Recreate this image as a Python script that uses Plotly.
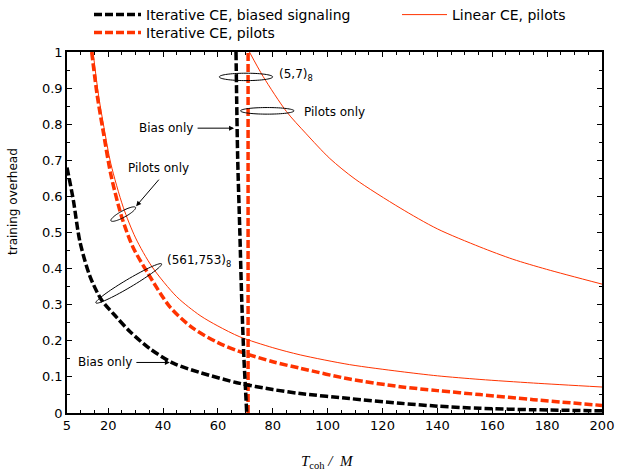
import math
import plotly.graph_objects as go

# ---------------- data ----------------
# Iterative CE, biased signaling: decreasing curve + near-vertical branch
black_curve_x = [5, 7.3, 9.7, 13.4, 17.6, 23.1, 28, 35.2, 43.7, 53.5, 68, 80, 90, 108, 126.4, 140, 155.5, 175, 200]
black_curve_y = [0.68, 0.59, 0.475, 0.378, 0.313, 0.265, 0.225, 0.178, 0.138, 0.112, 0.082, 0.065, 0.054, 0.04, 0.027, 0.019, 0.013, 0.009, 0.006]
black_vert_x = [66.6, 67.2, 68.0, 68.7, 69.5, 70.1, 70.5]
black_vert_y = [1.0, 0.71, 0.5, 0.31, 0.15, 0.06, 0.0]

# Iterative CE, pilots
red_curve_x = [14, 16, 18.1, 21, 24.9, 29, 34.5, 42.5, 50.9, 60, 68, 80, 90, 108, 126.4, 140, 155.5, 175, 200]
red_curve_y = [1.0, 0.88, 0.784, 0.66, 0.544, 0.46, 0.387, 0.294, 0.235, 0.195, 0.17, 0.142, 0.124, 0.094, 0.073, 0.062, 0.051, 0.037, 0.021]
red_vert_x = [71, 71]
red_vert_y = [0.0, 1.0]

# Linear CE, pilots
lin_low_x = [14.5, 16.5, 18.5, 21, 25.5, 30, 36, 45, 53.5, 60, 68, 80, 90, 108, 126.4, 140, 155.5, 175, 200]
lin_low_y = [1.0, 0.88, 0.79, 0.69, 0.57, 0.485, 0.405, 0.322, 0.27, 0.241, 0.211, 0.181, 0.161, 0.134, 0.115, 0.103, 0.093, 0.083, 0.072]
lin_up_x = [71.5, 76.5, 85, 92, 100.8, 110, 126.4, 140, 155.5, 167.5, 179.8, 200]
lin_up_y = [1.0, 0.932, 0.835, 0.775, 0.705, 0.648, 0.568, 0.51, 0.46, 0.426, 0.398, 0.357]

x_ticks = [5, 20, 40, 60, 80, 100, 120, 140, 160, 180, 200]
y_ticks = [0, 0.1, 0.2, 0.3, 0.4, 0.5, 0.6, 0.7, 0.8, 0.9, 1]
y_ticktext = ["0", "0.1", "0.2", "0.3", "0.4", "0.5", "0.6", "0.7", "0.8", "0.9", "1"]

# ---------------- layout geometry ----------------
W, H = 620, 470
ML, MR, MT, MB = 67, 18, 52, 57
XR = (5, 200)
YR = (0, 1)
PW = W - ML - MR
PH = H - MT - MB
PXX = PW / (XR[1] - XR[0])
PXY = PH / (YR[1] - YR[0])

RED = "#ff3300"
FONT = "DejaVu Sans"


def join(*segs):
    xs, ys = [], []
    for i, (sx, sy) in enumerate(segs):
        if i:
            xs.append(None)
            ys.append(None)
        xs += list(sx)
        ys += list(sy)
    return xs, ys


def ellipse_path(cx, cy, a_px, b_px, ang_deg, n=72):
    t = math.radians(ang_deg)
    pts = []
    for k in range(n):
        u = 2 * math.pi * k / n
        dx = a_px * math.cos(u)
        dy = b_px * math.sin(u)
        rx = dx * math.cos(t) - dy * math.sin(t)
        ry = dx * math.sin(t) + dy * math.cos(t)
        pts.append((cx + rx / PXX, cy + ry / PXY))
    return "M " + " L ".join(f"{x:.4f},{y:.5f}" for x, y in pts) + " Z"


fig = go.Figure()

bx, by = join((black_curve_x, black_curve_y), (black_vert_x, black_vert_y))
rx, ry = join((red_curve_x, red_curve_y), (red_vert_x, red_vert_y))
lx, ly = join((lin_low_x, lin_low_y), (lin_up_x, lin_up_y))

fig.add_trace(go.Scatter(x=lx, y=ly, mode="lines", name="Linear CE, pilots",
                         line=dict(color=RED, width=1, shape="spline", smoothing=0.8), legend="legend2"))
fig.add_trace(go.Scatter(x=rx, y=ry, mode="lines", name="Iterative CE, pilots",
                         line=dict(color=RED, width=3.5, dash="8px,3px", shape="spline", smoothing=0.8),
                         legend="legend3"))
fig.add_trace(go.Scatter(x=bx, y=by, mode="lines", name="Iterative CE, biased signaling",
                         line=dict(color="black", width=3.5, dash="8px,3px", shape="spline", smoothing=0.8),
                         legend="legend"))

# ellipses (centre in data units, axes in pixels)
ellipses = [
    (70.24, 0.931, 26.7, 3.7, 0),
    (78.0, 0.837, 26.7, 3.3, 0),
    (25.5, 0.551, 14.0, 3.2, 28.6),
    (27.5, 0.359, 38.2, 4.0, 30.7),
]
for cx, cy, a, b, ang in ellipses:
    fig.add_shape(type="path", path=ellipse_path(cx, cy, a, b, ang), xref="x", yref="y",
                  line=dict(color="black", width=1), fillcolor="rgba(0,0,0,0)")

afont = dict(family=FONT, size=12, color="black")
texts = [
    ("(5,7)<sub>8</sub>", 81.4, 0.936, "left"),
    ("Pilots only", 90.5, 0.835, "left"),
    ("Bias only", 51.8, 0.789, "right"),
    ("Pilots only", 26.5, 0.679, "left"),
    ("(561,753)<sub>8</sub>", 40.6, 0.422, "left"),
    ("Bias only", 8.4, 0.142, "left"),
]
for t, x, y, anc in texts:
    fig.add_annotation(text=t, x=x, y=y, xref="x", yref="y", xanchor=anc, yanchor="middle",
                       showarrow=False, font=afont)

arrows = [
    (65.9, 0.789, -38, 0),
    (30.2, 0.573, 24, -28),
    (42.5, 0.14, -35, 0),
]
for x, y, ax, ay in arrows:
    fig.add_annotation(text="", x=x, y=y, xref="x", yref="y", ax=ax, ay=ay,
                       showarrow=True, arrowhead=2, arrowsize=1, arrowwidth=1,
                       arrowcolor="black", standoff=0)

# axis titles (positions given in figure pixels, converted to plot-paper units)
fig.add_annotation(text="training overhead", x=(13 - ML) / PW, y=(H - MB - 202) / PH,
                   xref="paper", yref="paper", xanchor="center", yanchor="middle",
                   showarrow=False, textangle=-90,
                   font=dict(family=FONT, size=12, color="black"))
fig.add_annotation(text="<i>T</i><sub>coh</sub> <i>/</i>  <i>M</i>", x=(327 - ML) / PW,
                   y=-(462 - (H - MB)) / PH, xref="paper", yref="paper",
                   xanchor="center", yanchor="middle", showarrow=False,
                   font=dict(family="Liberation Serif", size=15, color="black"))

axis_common = dict(showgrid=False, zeroline=False, showline=True, linecolor="black", linewidth=1.5,
                   mirror="allticks", ticks="inside", ticklen=5, tickwidth=1, tickcolor="black",
                   tickfont=dict(family=FONT, size=13, color="black"), automargin=False)

fig.update_xaxes(range=list(XR), tickvals=x_ticks,
                 minor=dict(dtick=5, tick0=0, ticks="inside", ticklen=3, tickcolor="black"),
                 **axis_common)
fig.update_yaxes(range=list(YR), tickvals=y_ticks, ticktext=y_ticktext,
                 minor=dict(dtick=0.05, tick0=0, ticks="inside", ticklen=3, tickcolor="black"),
                 **axis_common)

leg_font = dict(family=FONT, size=14, color="black")


def leg(xpx, ypx, iw):
    return dict(xref="container", yref="container", x=xpx / W, y=1 - ypx / H,
                xanchor="left", yanchor="middle", orientation="v", font=leg_font,
                itemwidth=iw, bgcolor="rgba(0,0,0,0)", borderwidth=0)


fig.update_layout(
    width=W, height=H,
    margin=dict(l=ML, r=MR, t=MT, b=MB, autoexpand=False),
    paper_bgcolor="white", plot_bgcolor="white",
    font=dict(family=FONT, color="black"),
    legend=leg(89, 15, 47),
    legend3=leg(89, 33, 47),
    legend2=leg(397, 15, 45),
    showlegend=True,
)

fig.write_html("out.html", config={"displayModeBar": False},
               post_script="document.body.style.margin='0';document.body.style.padding='0';")
